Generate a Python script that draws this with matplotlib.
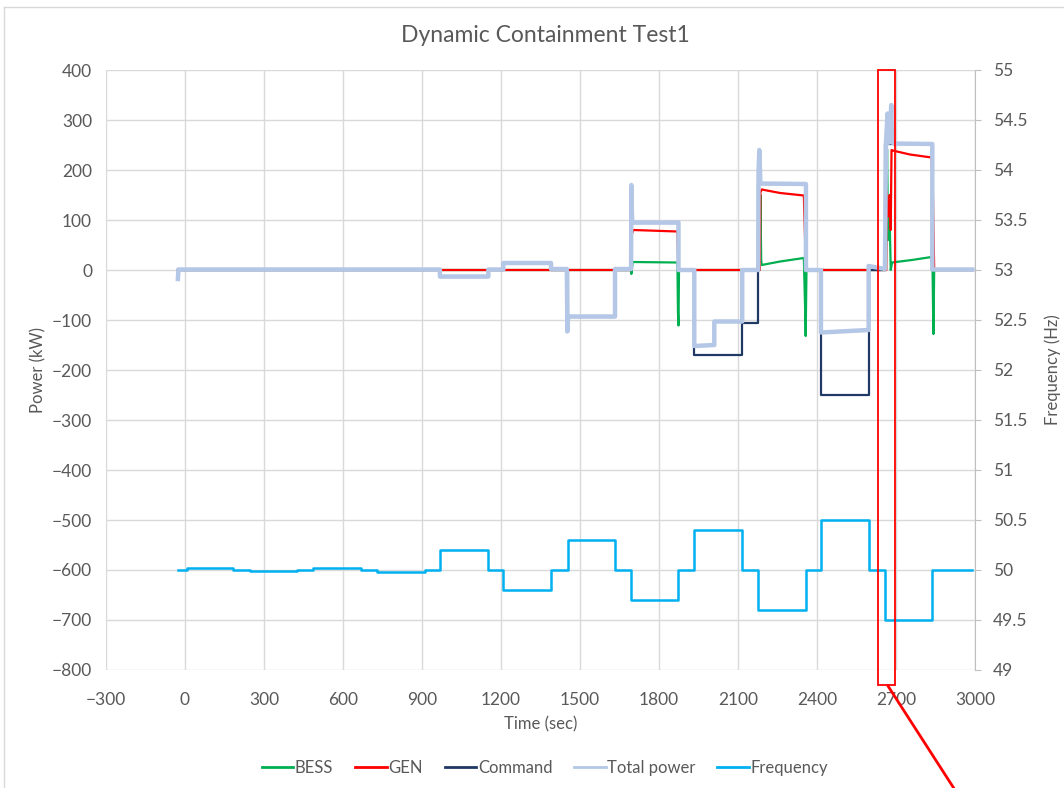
import matplotlib
matplotlib.use("Agg")
import matplotlib.pyplot as plt
from matplotlib.patches import Rectangle
from matplotlib.lines import Line2D

plt.rcParams['font.family'] = ['Lato', 'DejaVu Sans']

# ---- data ----
freq_t = [-27, 6, 183, 247, 427, 487, 668, 728, 911, 968, 1152, 1209, 1390, 1453,
          1633, 1694, 1874, 1934, 2116, 2177, 2358, 2415, 2596, 2658, 2838, 2990]
freq_hz = [50.0, 50.02, 50.0, 49.99, 50.0, 50.02, 50.0, 49.98, 50.0, 50.2, 50.0, 49.8,
           50.0, 50.3, 50.0, 49.7, 50.0, 50.4, 50.0, 49.6, 50.0, 50.5, 50.0, 49.5, 50.0, 50.0]

total_t = [-27, -25, 968, 968, 1152, 1152, 1209, 1209, 1390, 1390, 1450, 1452, 1455,
           1633, 1633, 1694, 1695, 1698, 1874, 1874, 1934, 1934, 2010, 2010, 2116, 2116,
           2177, 2178, 2181, 2185, 2358, 2358, 2415, 2415, 2596, 2596, 2658, 2662, 2668,
           2671, 2675, 2682, 2685, 2690, 2838, 2838, 2990]
total_kw = [-18, 1, 1, -13, -13, 1, 1, 14, 14, 2, 2, -123, -93,
            -93, 2, 2, 170, 95, 95, 0, 0, -152, -150, -103, -103, 0,
            0, 195, 240, 173, 172, 0, 0, -125, -120, 8, 2, 255, 313,
            255, 255, 330, 256, 253, 252, 1, 1]

cmd_t = [-27, 968, 968, 1152, 1152, 1209, 1209, 1390, 1390, 1453, 1453, 1633, 1633,
         1694, 1694, 1874, 1874, 1934, 1934, 2116, 2116, 2177, 2177, 2358, 2358,
         2415, 2415, 2596, 2596, 2658, 2658, 2838, 2838, 2990]
cmd_kw = [0, 0, -13, -13, 0, 0, 14, 14, 0, 0, -93, -93, 0,
          0, 95, 95, 0, 0, -170, -170, -105, -105, 173, 173, 0,
          0, -250, -250, 0, 0, 252, 252, 0, 0]

gen_t = [-27, 1694, 1696, 1702, 1870, 1874, 2183, 2185, 2190, 2260, 2350, 2358,
         2663, 2664, 2668, 2673, 2676, 2680, 2683, 2687, 2753, 2835, 2840, 2845, 2990]
gen_kw = [0, 0, 70, 80, 77, 0, 0, 155, 161, 154, 149, 0,
          0, 157, 110, 107, 150, 80, 240, 239, 231, 225, 155, 0, 0]

bess_t = [-27, 1694, 1695, 1700, 1870, 1872, 1874, 1876, 2183, 2185, 2188, 2190,
          2260, 2350, 2355, 2357, 2360, 2662, 2666, 2670, 2676, 2680, 2685, 2760,
          2835, 2839, 2842, 2845, 2990]
bess_kw = [0, 0, -8, 16, 15, -85, -111, 0, 0, 150, 20, 10,
           17, 24, -78, -132, 0, 0, 242, 60, 100, 0, 15, 20,
           26, -5, -128, 0, 0]

series_names = ["BESS", "GEN", "Command", "Total power", "Frequency"]
series_colors = ["#00B050", "#FF0000", "#1F3864", "#B4C7E7", "#00B0F0"]

# ---- figure ----
W, H = 1064, 788
fig = plt.figure(figsize=(W / 100, H / 100), dpi=100)
ax = fig.add_axes([106 / W, 1 - 670 / H, (975 - 106) / W, (670 - 70) / H])
ax2 = ax.twinx()

grey = "#595959"
gridc = "#D9D9D9"

ax.plot(bess_t, bess_kw, color=series_colors[0], lw=1.6)
ax.plot(gen_t, gen_kw, color=series_colors[1], lw=1.6)
ax.plot(cmd_t, cmd_kw, color=series_colors[2], lw=1.6)
ax.plot(total_t, total_kw, color=series_colors[3], lw=3.2)
ax2.plot(freq_t, freq_hz, color=series_colors[4], lw=1.8, drawstyle="steps-post")

ax.set_xlim(-300, 3000)
ax.set_ylim(-800, 400)
ax2.set_ylim(49, 55)
ax.set_xticks(range(-300, 3001, 300))
ax.set_yticks(range(-800, 401, 100))
ax2.set_yticks([49 + 0.5 * i for i in range(13)])
ax2.set_yticklabels(["49", "49.5", "50", "50.5", "51", "51.5", "52", "52.5",
                     "53", "53.5", "54", "54.5", "55"])

ax.grid(True, color=gridc, lw=1)
ax.set_axisbelow(True)
for a in (ax, ax2):
    for s in a.spines.values():
        s.set_visible(False)
ax2.spines["right"].set_visible(True)
ax2.spines["right"].set_color("#BFBFBF")
ax.tick_params(axis="both", length=0, colors=grey, labelsize=12.5, pad=10)
ax2.tick_params(axis="y", length=4, color="#BFBFBF", colors=grey, labelsize=12.5, pad=9)
ax.tick_params(axis="x", pad=16)

ax.set_xlabel("Time (sec)", color=grey, fontsize=12, labelpad=6)
ax.set_ylabel("Power (kW)", color=grey, fontsize=12, labelpad=4)
ax2.set_ylabel("Frequency (Hz)", color=grey, fontsize=12, labelpad=12)
fig.text(545 / W, 1 - 35 / H, "Dynamic Containment Test1", ha="center", va="center",
         fontsize=16.5, color=grey)

handles = [Line2D([], [], color=c, lw=2, label=n) for n, c in zip(series_names, series_colors)]
fig.legend(handles=handles, loc="center",
           bbox_to_anchor=(545 / W, 1 - 768 / H), ncol=5, frameon=False,
           fontsize=12, handlelength=1.9, handletextpad=0.1, columnspacing=1.3,
           labelcolor=grey)

# chart border
fig.add_artist(Line2D([4 / W, 1], [1 - 7 / H, 1 - 7 / H], transform=fig.transFigure,
                      color=gridc, lw=1))
fig.add_artist(Line2D([4 / W, 4 / W], [0, 1 - 7 / H], transform=fig.transFigure,
                      color=gridc, lw=1))

# red highlight box and pointer
fig.add_artist(Rectangle((878 / W, 1 - 685 / H), 17 / W, 615 / H, transform=fig.transFigure,
                         fill=False, edgecolor="#FF0000", lw=1.3))
fig.add_artist(Line2D([888 / W, 955 / W], [1 - 686 / H, 1 - 790 / H], transform=fig.transFigure,
                      color="#FF0000", lw=2))

fig.savefig("out.png", dpi=100)
